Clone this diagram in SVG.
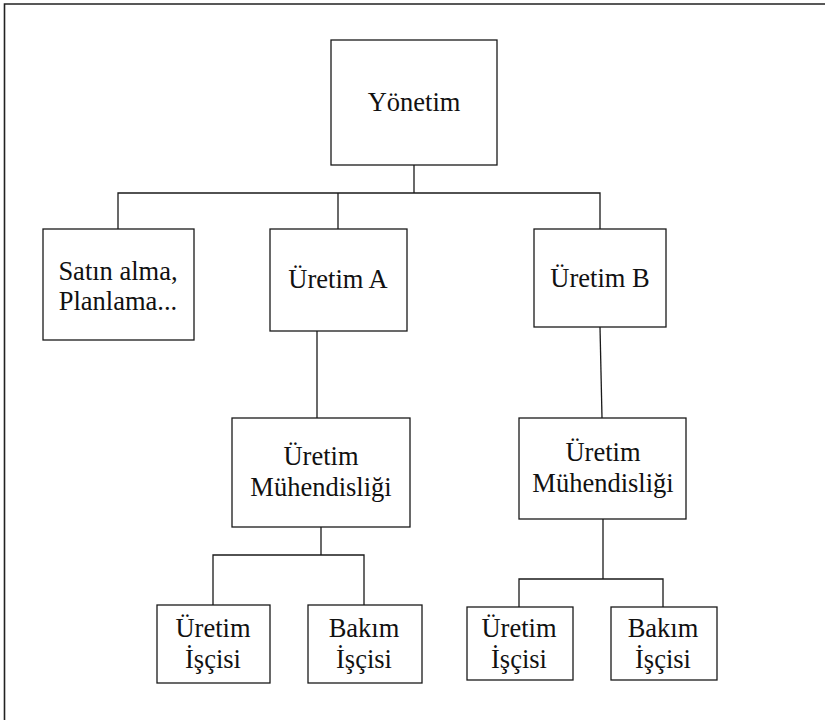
<svg xmlns="http://www.w3.org/2000/svg" width="825" height="720" viewBox="0 0 825 720">
  <style>
    .box { fill: #ffffff; stroke: #1a1a1a; stroke-width: 1.3; }
    .wire { fill: none; stroke: #1a1a1a; stroke-width: 1.3; }
  </style>
  <rect width="825" height="720" fill="#ffffff"/>
  <!-- frame (top and left edges) -->
  <path d="M4.5,720 V4 H825" fill="none" stroke="#222222" stroke-width="1.6"/>

  <g id="connectors">
    <path class="wire" d="M414,165 V193"/>
    <path class="wire" d="M118,229 V193 H600 V229"/>
    <path class="wire" d="M338,193 V229"/>
    <path class="wire" d="M317,331 V418"/>
    <path class="wire" d="M600,327 L602,418"/>
    <path class="wire" d="M321,527 V555"/>
    <path class="wire" d="M213,605 V555 H364 V605"/>
    <path class="wire" d="M603,519 V579"/>
    <path class="wire" d="M519,607 V579 H663 V607"/>
  </g>

  <g font-family="Liberation Serif, Times New Roman, Times, serif" font-size="26.5" fill="#111111" text-anchor="middle">
    <g id="yonetim">
      <rect class="box" x="331" y="40" width="166" height="125"/>
      <text x="414" y="111">Yönetim</text>
    </g>
    <g id="satin-alma">
      <rect class="box" x="43" y="229" width="151" height="111"/>
      <text x="118" y="280">Satın alma,</text>
      <text x="118" y="310">Planlama...</text>
    </g>
    <g id="uretim-a">
      <rect class="box" x="270" y="229" width="137" height="102"/>
      <text x="338" y="288">Üretim A</text>
    </g>
    <g id="uretim-b">
      <rect class="box" x="534" y="229" width="132" height="98"/>
      <text x="600" y="287">Üretim B</text>
    </g>
    <g id="muhendislik-a">
      <rect class="box" x="232" y="418" width="178" height="109"/>
      <text x="321" y="465">Üretim</text>
      <text x="321" y="496">Mühendisliği</text>
    </g>
    <g id="muhendislik-b">
      <rect class="box" x="519" y="418" width="167" height="101"/>
      <text x="603" y="461">Üretim</text>
      <text x="603" y="492">Mühendisliği</text>
    </g>
    <g id="uretim-iscisi-a">
      <rect class="box" x="157" y="605" width="113" height="78"/>
      <text x="213" y="637">Üretim</text>
      <text x="213" y="668">İşçisi</text>
    </g>
    <g id="bakim-iscisi-a">
      <rect class="box" x="308" y="605" width="114" height="78"/>
      <text x="364" y="637">Bakım</text>
      <text x="364" y="668">İşçisi</text>
    </g>
    <g id="uretim-iscisi-b">
      <rect class="box" x="467" y="607" width="106" height="73"/>
      <text x="519" y="637">Üretim</text>
      <text x="519" y="668">İşçisi</text>
    </g>
    <g id="bakim-iscisi-b">
      <rect class="box" x="611" y="607" width="106" height="73"/>
      <text x="663" y="637">Bakım</text>
      <text x="663" y="668">İşçisi</text>
    </g>
  </g>
</svg>
